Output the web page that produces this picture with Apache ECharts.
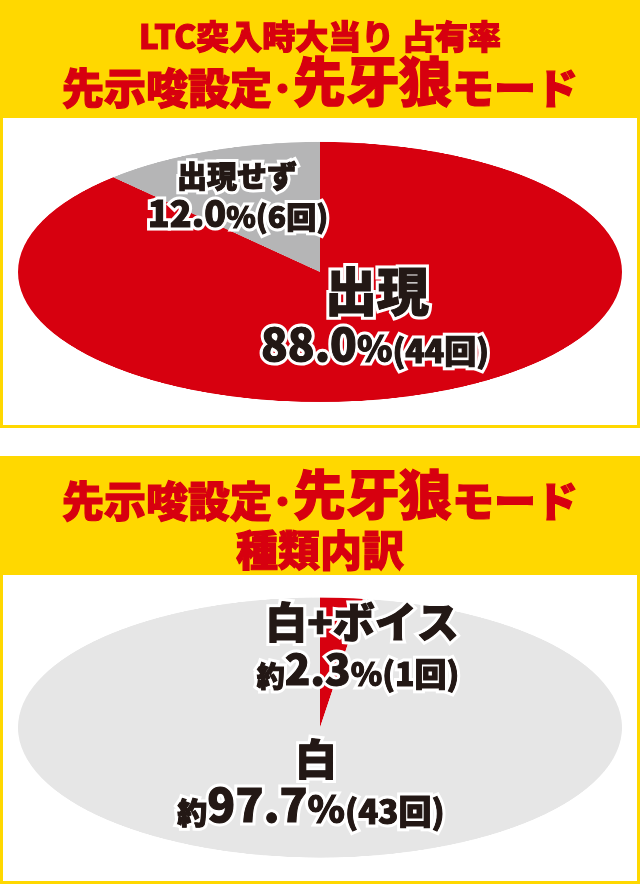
<!DOCTYPE html>
<html lang="ja">
<head>
<meta charset="utf-8">
<title>LTC突入時大当り 占有率</title>
<script src="https://cdn.jsdelivr.net/npm/echarts@6/dist/echarts.min.js"></script>
<style>
    html, body { margin: 0; padding: 0; background: #fff; }
    #wrap { position: relative; width: 640px; height: 884px; overflow: hidden; }
    /* ECharts pie is circular, so the pie layer is squashed into an ellipse */
    #pies { position: absolute; left: 0; top: 0; width: 640px; height: 2054px; transform: scaleY(0.4305); transform-origin: 0 0; }
    #frame { position: absolute; left: 0; top: 0; width: 640px; height: 884px; }
</style>
</head>
<body>
<div id="wrap">
    <div id="pies"></div>
    <div id="frame"></div>
</div>
<script>
// --- datos ---
const names1 = ['出現', '出現せず'];
const counts1 = [44, 6];
const names2 = ['白+ボイス', '白'];
const counts2 = [1, 43];
const header1 = ['LTC突入時大当り 占有率', '先示唆設定･', '先牙狼', 'モード'];
const header2 = ['先示唆設定･', '先牙狼', 'モード', '種類内訳'];

document.addEventListener('DOMContentLoaded', function () {
    const yellow = '#FFD800';
    const red = '#D7000F';
    const ink = '#231815';
    const font = '"Noto Sans CJK JP", "Noto Sans", sans-serif';
    const squash = 0.4305;

    // --- pies ---
    const pieChart = echarts.init(document.getElementById('pies'));
    function pieSeries(names, counts, colors, cy) {
        return {
            type: 'pie',
            center: [320, cy / squash],
            radius: 302,
            startAngle: 90,
            clockwise: true,
            silent: true,
            label: { show: false },
            labelLine: { show: false },
            itemStyle: { borderWidth: 0 },
            data: names.map((n, i) => ({ name: n, value: counts[i], itemStyle: { color: colors[i] } }))
        };
    }
    pieChart.setOption({
        animation: false,
        series: [
            pieSeries(names1, counts1, [red, '#B5B5B6'], 272),
            pieSeries(names2, counts2, [red, '#E6E6E6'], 727.5)
        ]
    });

    // --- textos y marcos ---
    function pct(counts, i) {
        const sum = counts.reduce((a, b) => a + b, 0);
        return (counts[i] / sum * 100).toFixed(1);
    }
    function tok(size, fill, stroke, lw) {
        return {
            fontSize: size, fontWeight: 900, fontFamily: font,
            fill: fill, stroke: stroke, lineWidth: lw,
            verticalAlign: 'bottom', lineHeight: size * 1.2
        };
    }
    // titulo rojo (trazo fino para engrosar)
    function title(y, str, sizes) {
        const rich = {};
        Object.keys(sizes).forEach(k => { rich[k] = tok(sizes[k], red, red, 1.2); });
        return { type: 'text', x: 320, y: y, z: 10, style: { text: str, rich: rich, align: 'center', verticalAlign: 'middle' } };
    }
    // etiqueta negra con borde blanco: dos capas
    function label(x, y, str, sizes) {
        const under = {}, over = {};
        Object.keys(sizes).forEach(k => {
            under[k] = tok(sizes[k], ink, '#fff', 7);
            over[k] = tok(sizes[k], ink, ink, 1);
        });
        return [
            { type: 'text', x: x, y: y, z: 10, style: { text: str, rich: under, align: 'center', verticalAlign: 'middle' } },
            { type: 'text', x: x, y: y, z: 11, style: { text: str, rich: over, align: 'center', verticalAlign: 'middle' } }
        ];
    }
    function valueLabel(x, y, counts, i, sizes, prefix) {
        const str = (prefix ? '{y|' + prefix + '}' : '') + '{n|' + pct(counts, i) + '}{p|%}{c|(' + counts[i] + '回)}';
        return label(x, y, str, { y: sizes[0], n: sizes[1], p: sizes[2], c: sizes[3] });
    }

    const bigSizes = { a: 42, b: 53, m: 42 };
    const frame = echarts.init(document.getElementById('frame'));
    frame.setOption({
        graphic: [
            // panel 1
            { type: 'rect', shape: { x: 0, y: 0, width: 640, height: 118 }, style: { fill: yellow } },
            { type: 'rect', shape: { x: 1.5, y: 1.5, width: 637, height: 425 }, style: { fill: 'none', stroke: yellow, lineWidth: 3 } },
            title(33, '{t|' + header1[0] + '}', { t: 33 }),
            title(77, '{a|' + header1[1] + '}{b|' + header1[2] + '}{m|' + header1[3] + '}', bigSizes),
            ...label(237, 173, '{t|' + names1[1] + '}', { t: 30 }),
            ...valueLabel(238, 210, counts1, 1, [0, 36, 30, 30]),
            ...label(377, 286, '{t|' + names1[0] + '}', { t: 52 }),
            ...valueLabel(375, 340, counts1, 0, [0, 44, 36, 32]),

            // panel 2
            { type: 'rect', shape: { x: 0, y: 456, width: 640, height: 119 }, style: { fill: yellow } },
            { type: 'rect', shape: { x: 1.5, y: 457.5, width: 637, height: 425 }, style: { fill: 'none', stroke: yellow, lineWidth: 3 } },
            title(490, '{a|' + header2[0] + '}{b|' + header2[1] + '}{m|' + header2[2] + '}', bigSizes),
            title(546, '{t|' + header2[3] + '}', { t: 42 }),
            ...label(362, 618, '{t|' + names2[0] + '}', { t: 42 }),
            ...valueLabel(358, 665, counts2, 0, [28, 42, 32, 32], '約'),
            ...label(316, 755, '{t|' + names2[1] + '}', { t: 42 }),
            ...valueLabel(311, 800, counts2, 1, [30, 46, 38, 33], '約')
        ]
    });
});
</script>
</body>
</html>
